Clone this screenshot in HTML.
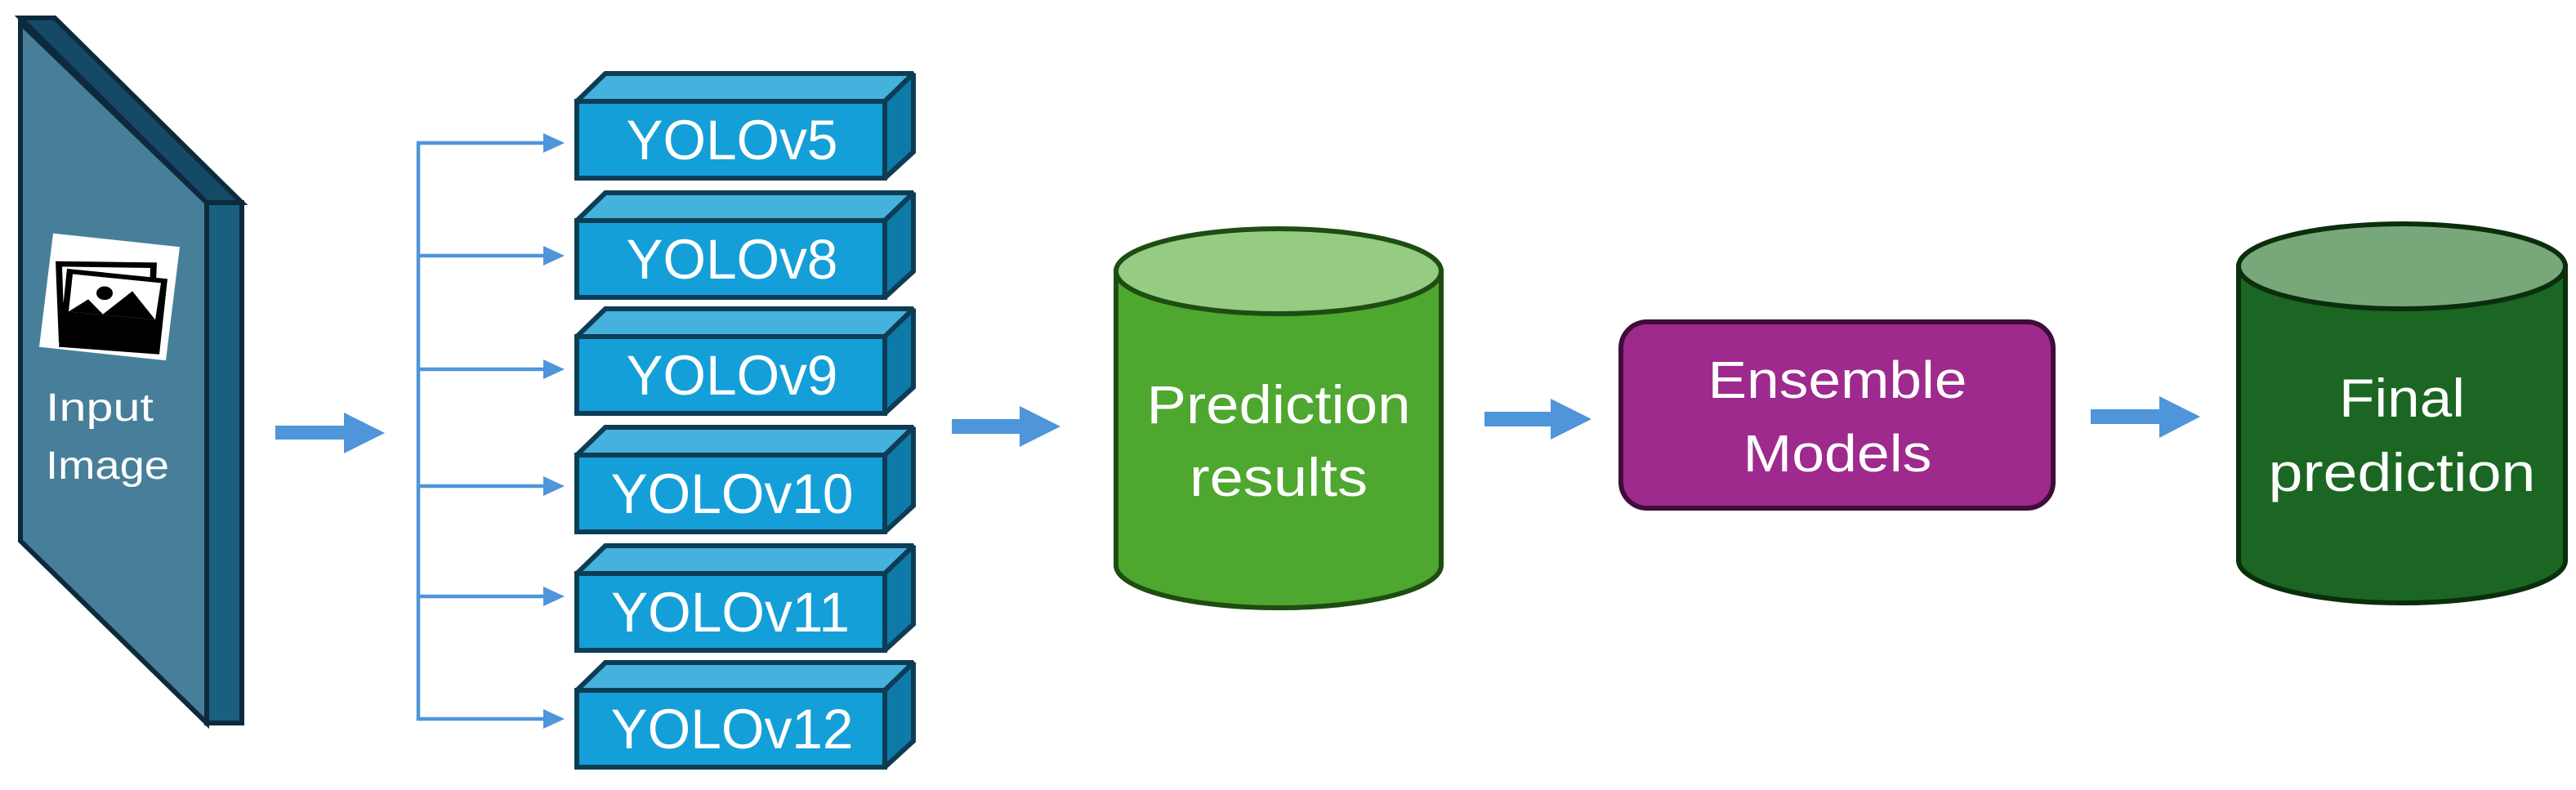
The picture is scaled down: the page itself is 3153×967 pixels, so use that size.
<!DOCTYPE html>
<html><head><meta charset="utf-8"><style>html,body{margin:0;padding:0;background:#fff;overflow:hidden}svg{display:block}</style></head>
<body>
<svg width="3153" height="967" viewBox="0 0 3153 967" xmlns="http://www.w3.org/2000/svg" font-family="Liberation Sans, sans-serif">
<rect width="3153" height="967" fill="#fff"/>
<!-- Input panel -->
<g stroke="#0d2a3c" stroke-width="6" stroke-linejoin="miter">
<polygon points="25,22 67,22 296,248 253,248" fill="#144a66"/>
<polygon points="253,248 296,248 296,885 253,885" fill="#1a5e80"/>
<polygon points="25,28 253,248 253,885 25,662" fill="#477f9a"/>
</g>
<g transform="scale(1,0.8326)">
<polygon points="65,343 220,363 203,530 48,510" fill="#fff"/>
<polygon points="68,384 192,386 188,500 72,504" fill="#000"/>
<polygon points="76,392 184,394 181,492 79,496" fill="#fff"/>
<polygon points="82,395 205,410 195,521 72,510" fill="#000"/>
<polygon points="89,403 197,416 190,470 84,458" fill="#fff"/>
<polygon points="84,458 108,440 126,462 162,428 190,470" fill="#000"/>
<circle cx="128" cy="431" r="10" fill="#000"/>
</g>
<text x="56" y="515" font-size="48" fill="#fff" textLength="132" lengthAdjust="spacingAndGlyphs">Input</text>
<text x="56" y="586" font-size="48" fill="#fff" textLength="151" lengthAdjust="spacingAndGlyphs">Image</text>
<!-- arrow 1 -->
<polygon points="337,521 421,521 421,505 471,530 421,555 421,538 337,538" fill="#4f95d9"/>
<!-- bracket -->
<g stroke="#4f95d9" stroke-width="4.5" fill="none">
<line x1="512" y1="175" x2="512" y2="882"/>
<line x1="510" y1="175" x2="670" y2="175"/>
<line x1="512" y1="313" x2="670" y2="313"/>
<line x1="512" y1="452" x2="670" y2="452"/>
<line x1="512" y1="595" x2="670" y2="595"/>
<line x1="512" y1="730" x2="670" y2="730"/>
<line x1="510" y1="880" x2="670" y2="880"/>
</g>
<g fill="#4f95d9">
<polygon points="665,163 691,175 665,187"/>
<polygon points="665,301 691,313 665,325"/>
<polygon points="665,440 691,452 665,464"/>
<polygon points="665,583 691,595 665,607"/>
<polygon points="665,718 691,730 665,742"/>
<polygon points="665,868 691,880 665,892"/>
</g>
<!-- YOLO boxes -->
<g stroke="#0d3d55" stroke-width="6" stroke-linejoin="miter" stroke-miterlimit="2">
<g transform="translate(0,0)"><polygon points="706,124 741,90 1118,90 1083,124" fill="#45b1dd"/><polygon points="1083,124 1118,90 1118,186 1083,218" fill="#0e7aa8"/><rect x="706" y="124" width="377" height="94" fill="#149fd8"/></g>
<g transform="translate(0,146)"><polygon points="706,124 741,90 1118,90 1083,124" fill="#45b1dd"/><polygon points="1083,124 1118,90 1118,186 1083,218" fill="#0e7aa8"/><rect x="706" y="124" width="377" height="94" fill="#149fd8"/></g>
<g transform="translate(0,288)"><polygon points="706,124 741,90 1118,90 1083,124" fill="#45b1dd"/><polygon points="1083,124 1118,90 1118,186 1083,218" fill="#0e7aa8"/><rect x="706" y="124" width="377" height="94" fill="#149fd8"/></g>
<g transform="translate(0,433)"><polygon points="706,124 741,90 1118,90 1083,124" fill="#45b1dd"/><polygon points="1083,124 1118,90 1118,186 1083,218" fill="#0e7aa8"/><rect x="706" y="124" width="377" height="94" fill="#149fd8"/></g>
<g transform="translate(0,578)"><polygon points="706,124 741,90 1118,90 1083,124" fill="#45b1dd"/><polygon points="1083,124 1118,90 1118,186 1083,218" fill="#0e7aa8"/><rect x="706" y="124" width="377" height="94" fill="#149fd8"/></g>
<g transform="translate(0,721)"><polygon points="706,124 741,90 1118,90 1083,124" fill="#45b1dd"/><polygon points="1083,124 1118,90 1118,186 1083,218" fill="#0e7aa8"/><rect x="706" y="124" width="377" height="94" fill="#149fd8"/></g>
</g>
<g fill="#fff" font-size="69" text-anchor="middle">
<text x="896" y="195" textLength="259" lengthAdjust="spacingAndGlyphs">YOLOv5</text>
<text x="896" y="341" textLength="259" lengthAdjust="spacingAndGlyphs">YOLOv8</text>
<text x="896" y="483" textLength="259" lengthAdjust="spacingAndGlyphs">YOLOv9</text>
<text x="896" y="628" textLength="297" lengthAdjust="spacingAndGlyphs">YOLOv10</text>
<text x="894" y="773" textLength="292" lengthAdjust="spacingAndGlyphs">YOLOv11</text>
<text x="896" y="916" textLength="297" lengthAdjust="spacingAndGlyphs">YOLOv12</text>
</g>
<!-- arrows -->
<polygon points="1165,513 1248,513 1248,497 1298,522 1248,547 1248,531 1165,531" fill="#4f95d9"/>
<polygon points="1817,504 1898,504 1898,488 1948,513 1898,538 1898,522 1817,522" fill="#4f95d9"/>
<polygon points="2559,501 2643,501 2643,485 2693,510 2643,536 2643,519 2559,519" fill="#4f95d9"/>
<!-- cylinder 1 -->
<path d="M1366,332 L1366,692 A199,52 0 0 0 1764,692 L1764,332 Z" fill="#4ea72e" stroke="#1e4d12" stroke-width="6"/>
<ellipse cx="1565" cy="332" rx="199" ry="52" fill="#95cb82" stroke="#1e4d12" stroke-width="6"/>
<text x="1565" y="518" font-size="66" fill="#fff" text-anchor="middle" textLength="323" lengthAdjust="spacingAndGlyphs">Prediction</text>
<text x="1565" y="607" font-size="66" fill="#fff" text-anchor="middle" textLength="218" lengthAdjust="spacingAndGlyphs">results</text>
<!-- ensemble -->
<rect x="1984" y="394" width="529" height="228" rx="32" fill="#9e2a8e" stroke="#3f0d3a" stroke-width="6"/>
<text x="2249" y="487" font-size="64" fill="#fff" text-anchor="middle" textLength="317" lengthAdjust="spacingAndGlyphs">Ensemble</text>
<text x="2249" y="577" font-size="64" fill="#fff" text-anchor="middle" textLength="231" lengthAdjust="spacingAndGlyphs">Models</text>
<!-- cylinder 2 -->
<path d="M2740,326 L2740,686 A200,52 0 0 0 3140,686 L3140,326 Z" fill="#1a6622" stroke="#0b2e0c" stroke-width="6"/>
<ellipse cx="2940" cy="326" rx="200" ry="52" fill="#78a87a" stroke="#0b2e0c" stroke-width="6"/>
<text x="2940" y="510" font-size="66" fill="#fff" text-anchor="middle" textLength="154" lengthAdjust="spacingAndGlyphs">Final</text>
<text x="2940" y="601" font-size="66" fill="#fff" text-anchor="middle" textLength="327" lengthAdjust="spacingAndGlyphs">prediction</text>
</svg>
</body></html>
